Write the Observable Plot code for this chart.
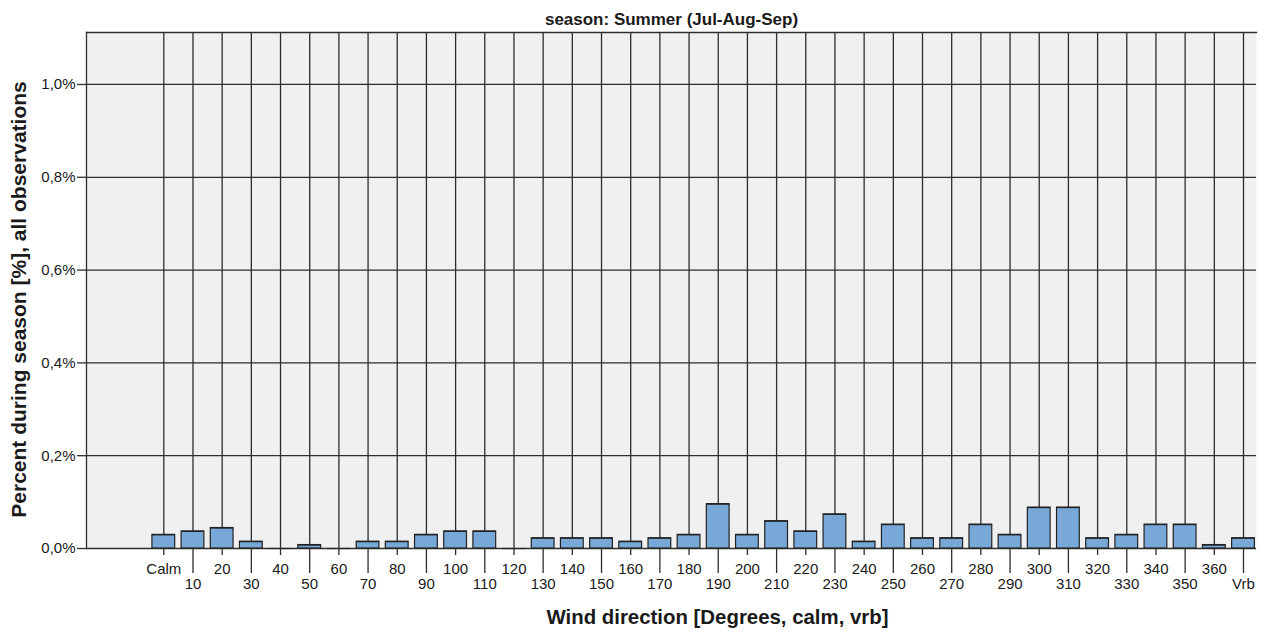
<!DOCTYPE html>
<html><head><meta charset="utf-8">
<script src="https://cdn.jsdelivr.net/npm/d3@7"></script>
<script src="https://cdn.jsdelivr.net/npm/@observablehq/plot@0.6"></script>
<style>body{margin:0;background:#fff;} svg{display:block}</style>
</head><body><div id="chart"></div>
<script>
const chartTitle = "season: Summer (Jul-Aug-Sep)";
const xTitle = "Wind direction [Degrees, calm, vrb]";
const yTitle = "Percent during season [%], all observations";
const directions = ["Calm","10","20","30","40","50","60","70","80","90","100","110","120","130","140","150","160","170","180","190","200","210","220","230","240","250","260","270","280","290","300","310","320","330","340","350","360","Vrb"];
const percents = [0.0294,0.0368,0.0441,0.0147,0,0.0074,0,0.0147,0.0147,0.0294,0.0368,0.0368,0,0.0221,0.0221,0.0221,0.0147,0.0221,0.0294,0.0956,0.0294,0.0588,0.0368,0.0735,0.0147,0.0515,0.0221,0.0221,0.0515,0.0294,0.0882,0.0882,0.0221,0.0294,0.0515,0.0515,0.0074,0.0221];
const yTicks = [0, 0.2, 0.4, 0.6, 0.8, 1.0];

const rows = directions.map((d, i) => ({direction: d, percent: percents[i]}));
const upperLabels = directions.filter((d, i) => i % 2 === 0);
const lowerLabels = directions.filter((d, i) => i % 2 === 1);
const fmt = v => v.toFixed(1).replace(".", ",") + "%";
const font = "'Liberation Sans', Arial, sans-serif";
const grid = "#2e2e2e";
const gw = 1.3;

const chart = Plot.plot({
  width: 1264, height: 632,
  marginTop: 32, marginRight: 8, marginBottom: 84, marginLeft: 86,
  style: {fontFamily: font, background: "#fff", color: "#1a1a1a"},
  x: {type: "band", domain: directions, range: [145.5, 1260.8], padding: 0.22, round: false},
  y: {domain: [0, 1.112]},
  marks: [
    Plot.frame({fill: "#f0f0f0", stroke: null}),
    Plot.gridX(directions, {stroke: grid, strokeOpacity: 1, strokeWidth: gw}),
    Plot.gridY(yTicks, {stroke: grid, strokeOpacity: 1, strokeWidth: gw}),
    Plot.frame({anchor: "left", stroke: grid, strokeWidth: gw}),
    Plot.frame({anchor: "top", stroke: grid, strokeWidth: gw}),
    Plot.barY(rows, {x: "direction", y: "percent", fill: "#78a8d8", stroke: "#222", strokeWidth: 1.2}),
    Plot.tickY(rows, {x: "direction", y: "percent", stroke: "#222", strokeWidth: 1.2}),
    Plot.axisY(yTicks, {tickSize: 9, tickPadding: 2, tickFormat: fmt, fontSize: 15, label: null, stroke: grid, strokeWidth: gw}),
    Plot.axisX(upperLabels, {tickSize: 7, tickPadding: 7.5, fontSize: 15, label: null, stroke: grid, strokeWidth: gw}),
    Plot.axisX(lowerLabels, {tickSize: 25, tickPadding: 4.5, fontSize: 15, label: null, stroke: grid, strokeWidth: gw}),
    Plot.text([chartTitle], {text: d => d, frameAnchor: "top", dy: -7.5, lineAnchor: "bottom", fontWeight: "bold", fontSize: 17}),
    Plot.text([xTitle], {text: d => d, frameAnchor: "bottom", dx: 46, dy: 75, lineAnchor: "bottom", fontWeight: "bold", fontSize: 20.4}),
    Plot.text([yTitle], {text: d => d, frameAnchor: "left", textAnchor: "middle", rotate: -90, dx: -61, dy: 9, lineAnchor: "bottom", fontWeight: "bold", fontSize: 21})
  ]
});
document.getElementById("chart").appendChild(chart);
</script>
</body></html>
